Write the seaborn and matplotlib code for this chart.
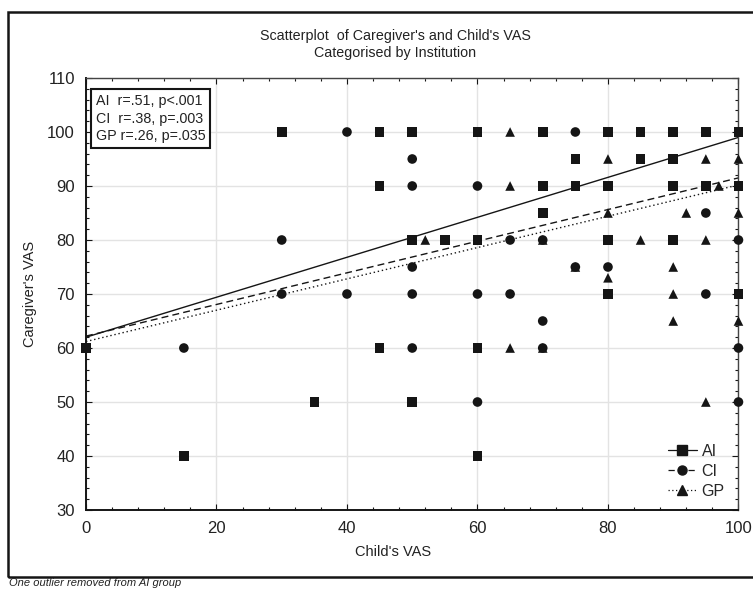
import numpy as np
import pandas as pd
import seaborn as sns
import matplotlib.pyplot as plt
from matplotlib.lines import Line2D
from matplotlib.patches import Rectangle

# Child's VAS (x) and caregiver's VAS (y) per institution
ai_child = [30, 45, 50, 60, 70, 80, 85, 90, 95, 100,
            75, 85, 90,
            45, 70, 75, 80, 90, 95, 100,
            70,
            50, 55, 60, 80, 90,
            80, 100,
            0, 45, 60,
            35, 50,
            15, 60]
ai_care = [100, 100, 100, 100, 100, 100, 100, 100, 100, 100,
           95, 95, 95,
           90, 90, 90, 90, 90, 90, 90,
           85,
           80, 80, 80, 80, 80,
           70, 70,
           60, 60, 60,
           50, 50,
           40, 40]

ci_child = [40, 50, 75,
            50,
            50, 60,
            95,
            30, 65, 70, 100,
            50, 75, 80,
            30, 40, 50, 60, 65, 95,
            70,
            15, 50, 70, 100,
            60, 100]
ci_care = [100, 100, 100,
           95,
           90, 90,
           85,
           80, 80, 80, 80,
           75, 75, 75,
           70, 70, 70, 70, 70, 70,
           65,
           60, 60, 60, 60,
           50, 50]

gp_child = [65,
            80, 95, 100,
            65, 97,
            80, 92, 100,
            52, 70, 85, 95,
            75, 90, 80,
            90,
            90, 100,
            65, 70,
            95]
gp_care = [100,
           95, 95, 95,
           90, 90,
           85, 85, 85,
           80, 80, 80, 80,
           75, 75, 73,
           70,
           65, 65,
           60, 60,
           50]

groups = ["AI", "CI", "GP"]
fit_intercept = [62.0, 62.2, 61.2]
fit_slope = [0.370, 0.293, 0.290]
fit_styles = ["-", (0, (5, 3)), (0, (1, 2))]
markers = {"AI": "s", "CI": "o", "GP": "^"}
stats_text = "AI  r=.51, p<.001\nCI  r=.38, p=.003\nGP r=.26, p=.035"

df = pd.DataFrame({
    "child": ai_child + ci_child + gp_child,
    "care": ai_care + ci_care + gp_care,
    "group": ["AI"] * len(ai_child) + ["CI"] * len(ci_child) + ["GP"] * len(gp_child),
})

sns.set_theme(style="ticks")
plt.rcParams["font.family"] = ["Liberation Sans", "DejaVu Sans"]
ink = "#151515"

fig = plt.figure(figsize=(7.53, 5.89), dpi=100)
ax = fig.add_axes([0.1142, 0.1341, 0.8665, 0.7335])

# regression lines
xs = np.array([0, 100])
for b0, b1, ls in zip(fit_intercept, fit_slope, fit_styles):
    ax.plot(xs, b0 + b1 * xs, color=ink, lw=1.0, linestyle=ls, zorder=2)

sns.scatterplot(data=df, x="child", y="care", style="group", markers=markers,
                color=ink, s=48, linewidth=0, legend=False, ax=ax, zorder=3,
                clip_on=False)

ax.set_xlim(0, 100)
ax.set_ylim(30, 110)
ax.set_xticks(range(0, 101, 20))
ax.set_yticks(range(30, 111, 10))
ax.set_xticks(range(0, 101, 4), minor=True)
ax.set_yticks(range(30, 111, 2), minor=True)
ax.grid(True, which="major", color="#e3e3e3", lw=1.0, zorder=0)
ax.tick_params(which="both", direction="in", top=True, right=True,
               colors=ink, labelcolor="#222222", labelsize=12)
ax.tick_params(which="major", length=4, width=0.8, pad=8)
ax.tick_params(which="minor", length=2, width=0.8)
for side in ["left", "bottom"]:
    ax.spines[side].set_linewidth(1.4)
    ax.spines[side].set_color(ink)
for side in ["top", "right"]:
    ax.spines[side].set_linewidth(1.0)
    ax.spines[side].set_color("#444444")

ax.set_xlabel("Child's VAS", fontsize=10.5, color="#222222")
ax.set_ylabel("Caregiver's VAS", fontsize=10.5, color="#222222")
ax.xaxis.set_label_coords(0.47, -0.082)
ax.yaxis.set_label_coords(-0.075, 0.5)

# stats box
ax.text(0.015, 0.962, stats_text, transform=ax.transAxes, va="top", ha="left",
        fontsize=10.3, color="#222222", linespacing=1.32, zorder=5,
        bbox=dict(boxstyle="square,pad=0.35", fc="white", ec=ink, lw=1.5))

# legend
handles = [Line2D([], [], color=ink, lw=0.9, linestyle=ls, marker=markers[g],
                  markersize=6.5, label=g)
           for g, ls in zip(groups, fit_styles)]
ax.legend(handles=handles, loc="lower right", bbox_to_anchor=(0.996, 0.0),
          frameon=False, fontsize=11.5, handlelength=1.8, handletextpad=0.3,
          labelspacing=0.32, borderpad=0.2)

fig.text(0.5246, 0.925, "Scatterplot  of Caregiver's and Child's VAS\nCategorised by Institution",
         ha="center", va="center", fontsize=10.3, color="#222222", linespacing=1.3)

# outer frame and footnote
fig.patches.append(Rectangle((8 / 753, 1 - 577 / 589), 1.0, (577 - 12) / 589,
                             transform=fig.transFigure, fill=False, ec=ink, lw=1.8))
fig.text(9 / 753, 1 - 586 / 589, "One outlier removed from AI group", ha="left",
         va="baseline", fontsize=8, style="italic", color="#222222")

fig.savefig("out.png", dpi=100)
